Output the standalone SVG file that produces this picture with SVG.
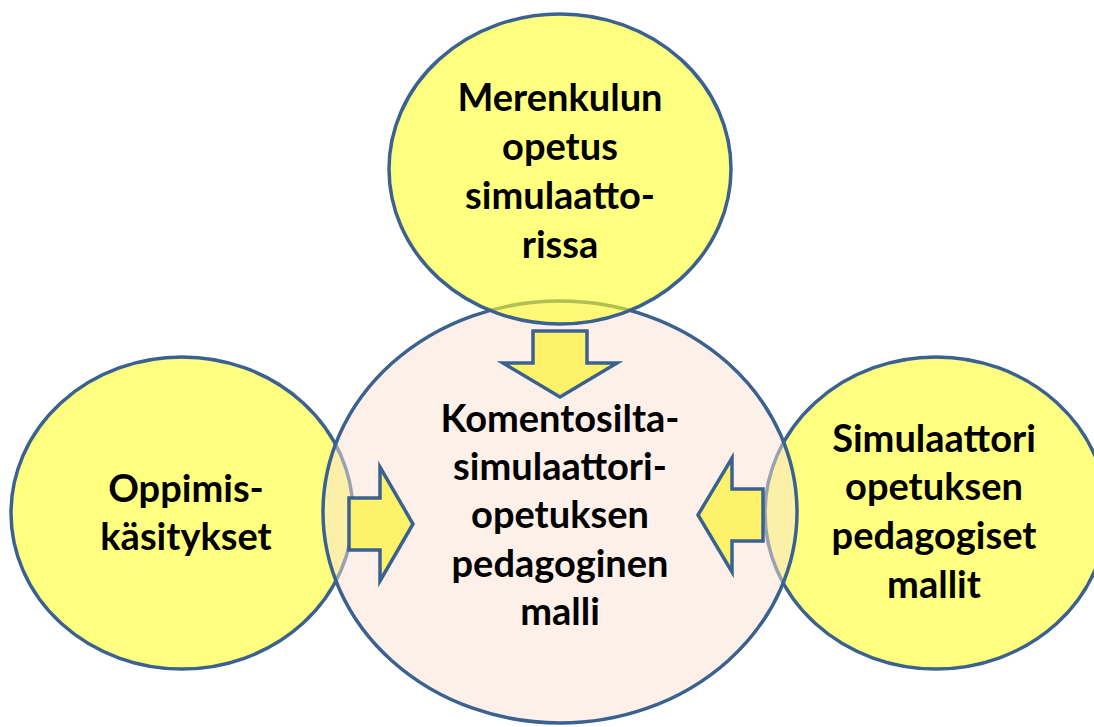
<svg xmlns="http://www.w3.org/2000/svg" width="1094" height="727" viewBox="0 0 1094 727">
  <defs>
    <style>
      .outer { fill: #FFFF2B; fill-opacity: 0.6; stroke: #3A6190; stroke-width: 3.5; }
      .core { fill: #F9E2D2; fill-opacity: 0.5; stroke: #3A6190; stroke-width: 3.5; }
      .arrow { fill: #FEF26B; stroke: #3A6190; stroke-width: 3.5; stroke-linejoin: miter; }
      .label { font-family: Lato, "Liberation Sans", sans-serif; font-weight: 700; font-size: 38px; fill: #000; text-anchor: middle; }
    </style>
  </defs>
  <rect width="1094" height="727" fill="#FFFFFF"/>

  <!-- side circles sit underneath the central model -->
  <g id="node-oppimiskasitykset">
    <ellipse class="outer" cx="182" cy="513" rx="171" ry="156"/>
    <text class="label" x="186" y="502">Oppimis-</text>
    <text class="label" x="186" y="550">käsitykset</text>
  </g>

  <g id="node-pedagogiset-mallit">
    <ellipse class="outer" cx="936" cy="513" rx="171" ry="156"/>
    <text class="label" x="934" y="452">Simulaattori</text>
    <text class="label" x="934" y="500">opetuksen</text>
    <text class="label" x="934" y="549">pedagogiset</text>
    <text class="label" x="934" y="598">mallit</text>
  </g>

  <!-- central model -->
  <g id="node-pedagoginen-malli">
    <ellipse class="core" cx="560" cy="512" rx="237" ry="211"/>
    <text class="label" x="560" y="432">Komentosilta-</text>
    <text class="label" x="560" y="480">simulaattori-</text>
    <text class="label" x="560" y="528">opetuksen</text>
    <text class="label" x="560" y="577">pedagoginen</text>
    <text class="label" x="560" y="625">malli</text>
  </g>

  <!-- top circle overlaps the central one -->
  <g id="node-merenkulun-opetus">
    <ellipse class="outer" cx="560" cy="169" rx="171" ry="155"/>
    <text class="label" x="560" y="111">Merenkulun</text>
    <text class="label" x="560" y="160">opetus</text>
    <text class="label" x="560" y="209">simulaatto-</text>
    <text class="label" x="560" y="258">rissa</text>
  </g>

  <!-- block arrows pointing into the central model -->
  <g id="connectors">
    <path class="arrow" d="M533,331 H587 V363 H617 L560,397 L503,363 H533 Z"/>
    <path class="arrow" d="M349,498 H380 V467 L413,524 L380,581 V550 H349 Z"/>
    <path class="arrow" d="M763,489 H732 V458 L698,515 L732,572 V541 H763 Z"/>
  </g>
</svg>
